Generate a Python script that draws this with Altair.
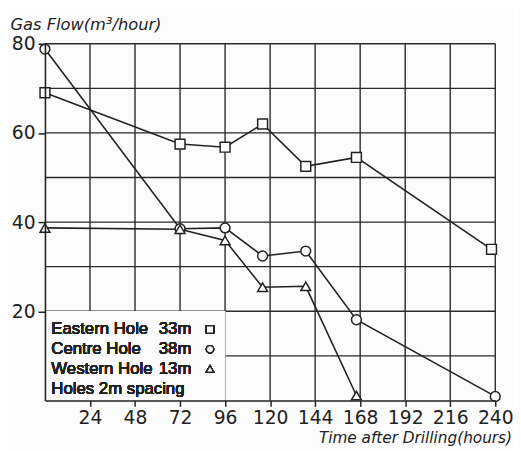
import altair as alt
import pandas as pd

# ---- data ----
hours_east = [0, 72, 96, 116, 139, 166, 238]
flow_east = [69.0, 57.5, 56.8, 62.0, 52.5, 54.5, 33.9]
hours_centre = [0, 72, 96, 116, 139, 166, 240]
flow_centre = [78.8, 38.5, 38.7, 32.4, 33.5, 18.1, 0.9]
hours_west = [0, 72, 96, 116, 139, 166]
flow_west = [38.7, 38.4, 35.9, 25.4, 25.6, 1.1]

series_names = ["Eastern", "Centre", "Western"]
series_shapes = ["square", "circle", "triangle-up"]

legend_names = ["Eastern Hole", "Centre Hole", "Western Hole", "Holes 2m spacing"]
legend_depths = ["33m", "38m", "13m", ""]

x_ticks = [24, 48, 72, 96, 120, 144, 168, 192, 216, 240]
y_ticks = [20, 40, 60, 80]
x_grid = [24, 48, 72, 96, 120, 144, 168, 192, 216, 240]
y_grid = [10, 20, 30, 40, 50, 60, 70, 80]

# ---- tables ----
rows = []
for name, hs, vs in [("Eastern", hours_east, flow_east),
                     ("Centre", hours_centre, flow_centre),
                     ("Western", hours_west, flow_west)]:
    for i, (h, v) in enumerate(zip(hs, vs)):
        rows.append({"series": name, "hours": h, "flow": v, "idx": i})
df = pd.DataFrame(rows)
gx = pd.DataFrame({"hours": x_grid})
gy = pd.DataFrame({"flow": y_grid})

W, H = 457, 362
INK = "#222222"
BG = "#fcfcfc"
xs = alt.Scale(domain=[0, 240], nice=False, zero=False)
ys = alt.Scale(domain=[0, 80], nice=False, zero=False)

x_axis = alt.Axis(values=x_ticks, grid=False, tickSize=6, tickWidth=1.5, tickColor=INK,
                  domainColor=INK, domainWidth=1.6, labelFont="DejaVu Sans", labelFontSize=19,
                  labelColor=INK, labelPadding=2, labelFlush=False,
                  title="Time after Drilling(hours)", titleFont="DejaVu Sans",
                  titleFontStyle="italic", titleFontWeight="normal", titleFontSize=15.5,
                  titleColor=INK, titleX=473.5, titleY=43, titleAlign="right",
                  titleBaseline="alphabetic", zindex=1)
y_axis = alt.Axis(values=y_ticks, grid=False, tickSize=7, tickWidth=1.5, tickColor=INK,
                  domainColor=INK, domainWidth=1.6, labelFont="DejaVu Sans", labelFontSize=19,
                  labelColor=INK, labelPadding=3, labelFlush=False,
                  title="Gas Flow(m³/hour)", titleFont="DejaVu Sans", titleFontStyle="italic",
                  titleFontWeight="normal", titleFontSize=16.5, titleColor=INK, titleAngle=0,
                  titleAlign="left", titleBaseline="alphabetic", titleX=-35.5, titleY=-14,
                  zindex=1)

X = alt.X("hours:Q", scale=xs, axis=x_axis)
Y = alt.Y("flow:Q", scale=ys, axis=y_axis)

grid_v = alt.Chart(gx).mark_rule(color="#2a2a2a", strokeWidth=1.4).encode(x=X)
grid_h = alt.Chart(gy).mark_rule(color="#2a2a2a", strokeWidth=1.4).encode(y=Y)

box = alt.Chart(gx).mark_rect(color=BG, opacity=1).encode(
    x=alt.value(0), x2=alt.value(W * 96 / 240),
    y=alt.value(H - H * 20 / 80), y2=alt.value(H))

lines = alt.Chart(df).mark_line(color=INK, strokeWidth=1.6).encode(
    x=X, y=Y, detail="series:N", order="idx:Q")

points = alt.Chart(df).mark_point(filled=True, fill=BG, stroke=INK, strokeWidth=1.5,
                                  opacity=1, size=100).encode(
    x=X, y=Y,
    shape=alt.Shape("series:N", scale=alt.Scale(domain=series_names, range=series_shapes),
                    legend=None))

legend_layers = []
for i, (nm, dp) in enumerate(zip(legend_names, legend_depths)):
    yy = 290 + 20 * i
    legend_layers.append(alt.Chart(gx).mark_text(
        text=nm, font="Liberation Sans", fontSize=17, color=INK, align="left",
        baseline="middle").encode(x=alt.value(6.5), y=alt.value(yy)))
    if dp:
        legend_layers.append(alt.Chart(gx).mark_text(
            text=dp, font="Liberation Sans", fontSize=17, color=INK, align="left",
            baseline="middle").encode(x=alt.value(115.5), y=alt.value(yy)))
        legend_layers.append(alt.Chart(gx).mark_point(
            shape=series_shapes[i], filled=True, fill=BG, stroke=INK, strokeWidth=1.3,
            opacity=1, size=55).encode(x=alt.value(167.5), y=alt.value(yy)))

chart = alt.layer(grid_v, grid_h, box, lines, points, *legend_layers).properties(
    width=W, height=H,
    autosize=alt.AutoSizeParams(type="none"),
    padding={"left": 37.5, "top": 33, "right": 18, "bottom": 46},
    background=BG,
).configure_view(stroke=None)

chart.save("out.html", embed_options={"renderer": "svg", "actions": False})
